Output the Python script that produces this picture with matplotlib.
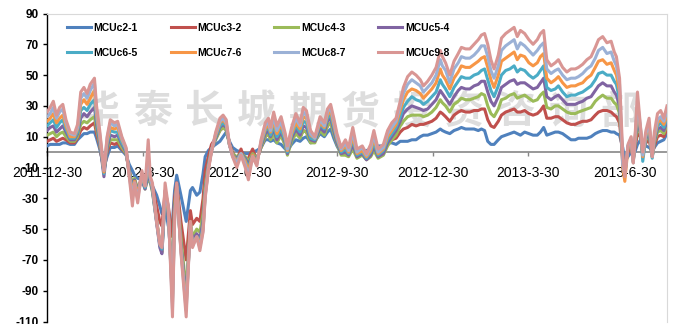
"""MCU 跨期价差走势图：相邻合约价差 c2-1 ... c9-8。"""

import matplotlib

matplotlib.use("Agg")
import matplotlib.pyplot as plt
import pandas as pd

plt.rcParams["font.family"] = ["Liberation Sans", "Noto Sans CJK SC", "DejaVu Sans"]
plt.rcParams["axes.unicode_minus"] = False

start = pd.Timestamp("2011-12-30")

# 距 2011-12-30 的天数
day_offsets = [
    0, 3, 6, 9, 12, 15, 18, 22, 26, 29, 32, 35, 38, 41, 45, 47, 50, 54, 57, 60, 64, 67, 71, 75,
    78, 81, 83, 86, 90, 93, 96, 98, 100, 104, 107, 109, 112, 115, 119, 121, 123, 127, 132, 136,
    138, 142, 145, 148, 150, 153, 156,
    160, 164, 167, 170, 173, 176, 180, 184, 188, 191, 195, 199, 203, 207, 210, 212, 215, 218, 222,
    226, 228, 232, 236, 240, 243, 246, 250, 254, 259, 263, 266, 269, 272, 275, 279, 283, 286, 290,
    294, 299, 303, 307, 310, 314, 319, 323, 327,
    331, 335, 338, 342, 346, 350, 354, 357, 361, 365, 369, 373, 375, 378, 382, 386, 390, 393, 397,
    401, 405, 409, 412, 415, 418, 421, 424, 428, 431, 435, 439, 443, 446, 449, 453, 457, 461, 465,
    468, 471, 474, 478, 482, 485, 489, 493, 497, 501, 504, 508, 512, 516, 520, 523, 527, 531, 535,
    538, 540, 543,
    546, 548, 551, 554, 556, 558, 560, 563, 565, 568, 571, 574, 576, 579, 582, 585, 588,
]

mcu_c2_1 = [
    4, 5, 5, 5, 5, 6, 6, 5, 5, 8, 10, 12, 12, 13, 13, 9, 2, -10, -3, 3, 3, 4, 1, -2,
    -8, -12, -15, -17, -18, -20, -18, -20, -22, -28, -35, -40, -35, -48, -45, -25, -15, -28, -45,
    -25, -23, -28, -26, -14, -3, 1, 3,
    5, 7, 10, 13, 7, 3, 1, 0, -1, -1, 0, 1, 3, 8, 8, 7, 8, 6, 5, 2, 1, 5, 8, 7, 9, 10, 6, 7,
    12, 10, 13, 15, 9, 4, -1, 1, 1, 2, 1, 1, 1, 2, 3, 4, 4, 6, 6,
    5, 7, 7, 7, 8, 8, 10, 11, 11, 12, 13, 15, 14, 13, 12, 14, 15, 16, 15, 15, 15, 14, 15, 14, 7,
    5, 5, 8, 10, 11, 12, 13, 12, 11, 13, 12, 11, 11, 13, 16, 11, 12, 13, 13, 12, 10, 8, 8, 9, 9,
    9, 10, 12, 13, 14, 14, 13, 13, 12, 11,
    3, -5, -3, 0, -2, 1, 5, 8, 3, 4, 3, 1, 3, 6, 7, 8, 12,
]
mcu_c3_2 = [
    7, 8, 9, 7, 8, 9, 8, 6, 6, 9, 14, 16, 15, 17, 19, 12, 4, -12, 0, 6, 5, 6, 2, -1,
    -12, -22, -18, -25, -15, -22, -14, -18, -22, -35, -45, -48, -25, -35, -55, -30, -20, -45, -70,
    -38, -47, -43, -45, -30, -12, -3, 5,
    9, 14, 16, 15, 6, 0, -5, 2, -6, -4, 2, -5, 3, 10, 12, 9, 12, 8, 11, 5, 1, 8, 13, 10, 14, 13,
    8, 8, 15, 12, 17, 19, 13, 6, 0, 1, 0, 3, -2, 0, -3, 0, 3, 0, 1, 5, 8,
    9, 13, 15, 16, 18, 17, 18, 18, 19, 20, 22, 26, 25, 23, 20, 24, 26, 27, 26, 26, 27, 27, 28, 28,
    21, 17, 16, 20, 24, 26, 27, 28, 26, 26, 27, 25, 24, 25, 27, 30, 22, 22, 23, 23, 21, 19, 18, 18,
    19, 20, 20, 21, 24, 26, 27, 27, 26, 24, 23, 19,
    -3, -10, 0, 4, -4, 4, 12, 10, 0, 6, 8, -2, 4, 10, 11, 10, 15,
]
mcu_c4_3 = [
    11, 12, 13, 10, 12, 13, 10, 7, 7, 10, 18, 20, 19, 21, 23, 15, 5, -13, 2, 8, 8, 8, 3, -1,
    -13, -20, -17, -24, -18, -24, -16, -20, -26, -45, -60, -65, -30, -40, -80, -35, -22, -55, -90,
    -45, -55, -50, -52, -40, -22, -8, 2,
    8, 14, 16, 14, 5, -1, -3, -1, -3, -6, -1, -4, 3, 10, 12, 8, 12, 6, 11, 4, -2, 7, 12, 9, 14,
    13, 6, 6, 14, 11, 17, 19, 12, 5, -2, -2, -3, 2, -4, -2, -5, -3, 1, -4, -2, 4, 8,
    11, 17, 20, 23, 24, 24, 24, 23, 24, 26, 29, 34, 32, 30, 26, 31, 33, 35, 34, 34, 35, 36, 38, 37,
    30, 25, 23, 28, 34, 35, 37, 38, 35, 36, 37, 35, 33, 34, 37, 39, 29, 28, 30, 30, 28, 26, 25, 25,
    26, 27, 28, 29, 33, 35, 37, 35, 35, 32, 31, 25,
    -5, -12, 2, 6, -5, 7, 18, 11, -2, 8, 11, -3, 6, 13, 14, 12, 18,
]
mcu_c5_4 = [
    14, 16, 17, 13, 15, 17, 13, 8, 8, 12, 22, 25, 23, 26, 29, 18, 6, -16, 3, 11, 10, 11, 5, 0,
    -14, -22, -18, -25, -18, -24, -14, -19, -25, -46, -62, -66, -30, -42, -90, -38, -24, -60, -95,
    -48, -57, -53, -56, -45, -26, -9, 1,
    9, 16, 18, 16, 5, -2, -4, -1, -4, -8, -2, -5, 4, 12, 14, 10, 15, 8, 13, 6, -1, 9, 15, 11, 17,
    16, 8, 7, 16, 13, 20, 22, 14, 6, -1, 0, -2, 5, -3, -1, -5, -2, 4, -3, -1, 6, 10,
    14, 20, 25, 28, 30, 29, 28, 27, 28, 31, 34, 40, 38, 35, 31, 36, 40, 42, 41, 41, 43, 44, 46, 46,
    39, 33, 30, 36, 42, 44, 46, 47, 44, 45, 45, 43, 41, 42, 45, 48, 36, 34, 36, 37, 34, 31, 31, 31,
    32, 33, 35, 36, 40, 43, 45, 43, 43, 39, 37, 30,
    -8, -14, 3, 7, -6, 9, 22, 12, -3, 9, 13, -3, 7, 15, 16, 14, 20,
]
mcu_c6_5 = [
    17, 19, 21, 16, 19, 21, 15, 9, 9, 13, 27, 29, 27, 31, 34, 21, 8, -14, 5, 14, 13, 13, 6, 1,
    -14, -24, -19, -26, -17, -23, -10, -18, -24, -45, -60, -63, -28, -40, -95, -40, -24, -62, -98,
    -48, -59, -55, -59, -48, -27, -10, 1,
    10, 17, 19, 17, 5, -2, -5, -1, -5, -10, -2, -6, 5, 14, 16, 11, 17, 10, 15, 7, 0, 11, 17, 13,
    20, 19, 9, 8, 18, 15, 22, 24, 16, 8, 0, 2, -1, 8, -2, 0, -4, 0, 6, -2, 1, 8, 12,
    16, 23, 29, 33, 36, 34, 33, 31, 33, 36, 39, 47, 44, 41, 36, 42, 46, 49, 48, 48, 50, 51, 53, 54,
    47, 40, 36, 43, 50, 53, 54, 56, 52, 54, 53, 50, 48, 50, 53, 56, 42, 40, 41, 43, 39, 36, 37, 37,
    38, 39, 41, 43, 47, 51, 52, 50, 50, 46, 44, 34,
    -5, -13, 4, 8, -6, 10, 26, 13, -6, 10, 15, -4, 8, 17, 19, 16, 22,
]
mcu_c7_6 = [
    20, 22, 25, 19, 22, 24, 17, 10, 10, 15, 31, 34, 31, 35, 40, 24, 10, -13, 7, 16, 15, 16, 8, 2,
    -15, -26, -19, -27, -16, -22, -6, -17, -23, -44, -58, -60, -26, -38, -98, -42, -23, -63, -100,
    -47, -60, -55, -60, -50, -28, -11, 1,
    11, 19, 21, 18, 5, -2, -6, -1, -6, -12, -2, -7, 6, 15, 18, 13, 20, 12, 18, 9, 1, 12, 19, 15,
    23, 22, 11, 9, 19, 16, 24, 27, 18, 9, 1, 4, 0, 10, -1, 1, -3, 1, 9, -1, 2, 10, 14,
    18, 27, 34, 39, 41, 40, 38, 35, 38, 41, 45, 54, 50, 47, 41, 48, 52, 56, 55, 55, 57, 59, 61, 62,
    55, 47, 42, 50, 59, 61, 63, 65, 60, 63, 62, 58, 56, 58, 62, 64, 48, 45, 47, 49, 45, 42, 43, 43,
    44, 45, 48, 50, 55, 59, 60, 57, 58, 53, 50, 39,
    -10, -19, 3, 7, -7, 11, 29, 14, -3, 11, 17, -3, 9, 19, 21, 18, 24,
]
mcu_c8_7 = [
    23, 25, 29, 22, 26, 28, 19, 12, 11, 16, 35, 38, 35, 40, 45, 27, 12, -12, 9, 19, 17, 18, 9, 2,
    -15, -30, -20, -30, -14, -22, -2, -17, -22, -45, -59, -61, -25, -36, -102, -44, -22, -64, -103,
    -46, -61, -55, -62, -51, -29, -11, 1,
    12, 20, 22, 19, 5, -3, -7, -1, -8, -15, -3, -8, 7, 17, 20, 14, 23, 14, 20, 10, 2, 14, 22, 17,
    26, 24, 12, 9, 21, 17, 26, 29, 20, 10, 2, 6, 1, 13, 0, 3, -2, 3, 11, 0, 3, 12, 16,
    20, 30, 38, 44, 47, 45, 43, 39, 42, 45, 50, 60, 56, 53, 45, 54, 58, 62, 61, 61, 63, 66, 69, 69,
    62, 53, 48, 56, 66, 69, 71, 73, 67, 71, 69, 66, 63, 66, 69, 71, 54, 51, 53, 54, 50, 47, 48, 48,
    49, 51, 54, 56, 61, 66, 68, 64, 65, 59, 56, 44,
    -8, -15, 4, 9, -7, 12, 33, 15, -2, 12, 19, -3, 11, 21, 23, 20, 27,
]
mcu_c9_8 = [
    26, 29, 33, 24, 29, 31, 21, 13, 12, 18, 39, 42, 38, 44, 48, 30, 14, -12, 10, 21, 19, 20, 10, 3,
    -16, -35, -20, -33, -12, -22, 8, -16, -20, -46, -60, -62, -20, -35, -107, -45, -20, -65, -107,
    -45, -62, -55, -64, -52, -30, -12, 0,
    13, 22, 24, 21, 5, -3, -10, -2, -10, -18, -3, -9, 8, 19, 22, 16, 26, 17, 23, 12, 4, 16, 25, 19,
    29, 27, 14, 10, 23, 19, 28, 31, 22, 12, 3, 8, 3, 16, 2, 4, -1, 5, 14, 2, 5, 14, 19,
    22, 33, 42, 49, 52, 50, 47, 43, 46, 50, 55, 66, 62, 58, 50, 59, 64, 68, 67, 67, 70, 73, 76, 77,
    70, 60, 54, 63, 74, 77, 79, 81, 75, 79, 77, 73, 70, 73, 77, 79, 60, 56, 58, 60, 55, 52, 54, 54,
    55, 57, 60, 62, 68, 73, 75, 71, 72, 65, 62, 48,
    -1, -16, 5, 10, -7, 14, 39, 16, 0, 14, 22, -3, 13, 25, 27, 22, 30,
]

series_names = ["MCUc2-1", "MCUc3-2", "MCUc4-3", "MCUc5-4",
                "MCUc6-5", "MCUc7-6", "MCUc8-7", "MCUc9-8"]
series_values = [mcu_c2_1, mcu_c3_2, mcu_c4_3, mcu_c5_4,
                 mcu_c6_5, mcu_c7_6, mcu_c8_7, mcu_c9_8]
colors = ["#4F81BD", "#C0504D", "#9BBB59", "#8064A2",
          "#4BACC6", "#F79646", "#9BB1D6", "#D99694"]

tick_labels = ["2011-12-30", "2012-3-30", "2012-6-30", "2012-9-30",
               "2012-12-30", "2013-3-30", "2013-6-30"]
y_ticks = [90, 70, 50, 30, 10, -10, -30, -50, -70, -90, -110]

watermark = "华泰长城期货投资咨询部"

dates = start + pd.to_timedelta(day_offsets, unit="D")

W, H = 678, 324
fig = plt.figure(figsize=(W / 100, H / 100), dpi=100)
ax = fig.add_axes([47 / W, 2.5 / H, 620 / W, 308 / H])

handles = []
for name, vals, c in zip(series_names, series_values, colors):
    (ln,) = ax.plot(dates, vals, color=c, linewidth=2.2, label=name, zorder=3,
                    solid_joinstyle="round")
    handles.append(ln)

# 水印
for i, ch in enumerate(watermark):
    ax.text((100 + i * 52) / W, 1 - 112 / H, ch, transform=fig.transFigure,
            fontsize=28, fontweight="bold", color="#DDDDDD", ha="center", va="center",
            family=["Noto Sans CJK SC"], zorder=1)

ax.set_ylim(-110, 90)
ax.set_xlim(start, start + pd.Timedelta(days=588))
ax.set_yticks(y_ticks)
ax.set_yticklabels([str(v) for v in y_ticks], fontweight="bold", fontsize=8.5)
ax.set_xticks(pd.to_datetime(tick_labels))
ax.set_xticklabels(tick_labels, fontweight="bold", fontsize=7.5)

ax.spines["bottom"].set_position(("data", 0))
ax.spines["bottom"].set_color("#868686")
ax.spines["bottom"].set_linewidth(1.2)
ax.spines["bottom"].set_zorder(2)
ax.spines["left"].set_color("black")
ax.spines["left"].set_linewidth(1.0)
for s in ("top", "right"):
    ax.spines[s].set_color("#D9D9D9")
    ax.spines[s].set_linewidth(0.8)

ax.tick_params(axis="y", direction="out", length=3, width=1, pad=3, colors="black")
ax.tick_params(axis="x", direction="out", length=3, width=1, pad=7,
               color="#868686", labelcolor="black")

# 图例按行排列：4 列 2 行
order = [0, 4, 1, 5, 2, 6, 3, 7]
ax.legend([handles[i] for i in order], [series_names[i] for i in order],
          ncol=4, frameon=False, loc="upper left",
          bbox_to_anchor=(67 / W, 1 - 23 / H), bbox_transform=fig.transFigure,
          borderpad=0, borderaxespad=0, handlelength=2.3, handletextpad=0.25,
          columnspacing=3.15, labelspacing=1.45,
          prop={"weight": "bold", "size": 7.5})

fig.savefig("out.png", dpi=100)
plt.close(fig)
